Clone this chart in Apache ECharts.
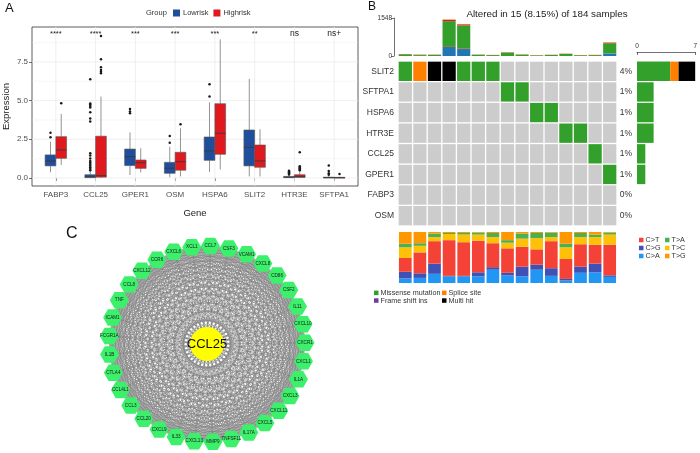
<!DOCTYPE html>
<html><head><meta charset="utf-8">
<script src="https://cdn.jsdelivr.net/npm/echarts@6/dist/echarts.min.js"></script>
<style>html,body{margin:0;padding:0;background:#fff}#c{width:700px;height:453px}</style>
</head><body><div id="c"></div>
<script>
// ---------- Panel A data ----------
const genes = ['FABP3','CCL25','GPER1','OSM','HSPA6','SLIT2','HTR3E','SFTPA1'];
const sigLabels = ['****','****','***','***','***','**','ns','ns+'];
const sigY = 9.3;
const yTicks = [0, 2.5, 5, 7.5];
const yMinor = [1.25, 3.75, 6.25, 8.75];
// [lower whisker, q1, median, q3, upper whisker]
const lowBox = [
  [0.37,0.78,1.10,1.49,2.35],
  [0.00,0.02,0.08,0.21,0.45],
  [0.19,0.80,1.38,1.87,2.95],
  [0.05,0.30,0.63,1.01,2.02],
  [0.38,1.14,1.75,2.65,4.89],
  [0.10,0.78,1.98,3.10,6.40],
  [0.00,0.02,0.05,0.10,0.17],
  [0.00,0.00,0.02,0.05,0.12]
];
const highBox = [
  [0.84,1.27,1.81,2.67,4.14],
  [0.00,0.05,0.15,2.70,5.26],
  [0.35,0.62,0.99,1.16,1.92],
  [0.10,0.50,1.05,1.66,3.21],
  [0.55,1.53,2.89,4.80,8.96],
  [0.10,0.69,1.10,2.13,3.15],
  [0.00,0.03,0.10,0.21,0.45],
  [0.00,0.00,0.02,0.04,0.08]
];
const lowOut = [
  [2.63,2.93],
  [0.5,0.6,0.7,0.8,0.9,1.0,1.1,1.25,1.45,1.6,3.65,3.85,4.25,4.55,4.65,4.75,4.82,6.38],
  [4.18,4.3,4.46],
  [2.28,2.72],
  [5.26,6.06],
  [],
  [0.22,0.27,0.32,0.37,0.42,0.47],
  [0.2,0.3,0.45,0.8]
];
const highOut = [
  [4.83],
  [6.77,6.87,6.98,7.15,7.67,9.18],
  [],
  [3.47],
  [],
  [],
  [0.5,0.55,0.62,0.68,0.75,1.66],
  [0.25]
];

// ---------- Panel B data ----------
const samples = ['S01','S02','S03','S04','S05','S06','S07','S08','S09','S10','S11','S12','S13','S14','S15'];
const oncoGenes = ['SLIT2','SFTPA1','HSPA6','HTR3E','CCL25','GPER1','FABP3','OSM'];
const oncoPct = ['4%','1%','1%','1%','1%','1%','0%','0%'];
// M = Missense mutation, S = Splice site, X = Multi hit, . = none
const oncoRows = [
  'MSXXMMM........',
  '.......MM......',
  '.........MM....',
  '...........MM..',
  '.............M.',
  '..............M',
  '...............',
  '...............'
];
const topFsDel   = [0,5,0,330,250,0,0,0,0,0,0,0,0,0,100];
const topFsIns   = [0,0,0,40,45,0,0,0,0,0,0,0,0,0,10];
const topMissense= [70,40,45,1050,950,50,35,140,55,25,40,85,30,35,410];
const topNonsense= [8,10,10,55,45,8,8,10,8,8,8,8,8,10,25];
const topSplice  = [3,3,3,15,15,3,3,3,3,3,3,3,3,3,15];
const rightMissense = [4,2,2,2,1,1,0,0];
const rightSplice   = [1,0,0,0,0,0,0,0];
const rightMulti    = [2,0,0,0,0,0,0,0];
const titvCA = [9,10,18,13,13,13,26,15,13,26,14,5,20,21,12];
const titvCG = [13,9,20,1,1,8,5,5,19,10,15,3,12,17,3];
const titvCT = [27,41,44,70,66,62,47,48,39,30,53,39,44,37,60];
const titvTC = [21,13,8,12,15,12,12,11,16,22,8,23,14,15,20];
const titvTA = [7,5,7,2,3,4,8,5,10,10,9,7,8,5,4];
const titvTG = [23,22,3,2,2,1,2,16,3,2,1,23,2,5,1];

// ---------- Panel C data ----------
const hubGene = 'CCL25';
const ringGenes = ['CCL7','CSF3','VCAM1','CXCL8','CD86','CSF2','IL11','CXCL10','CXCR1','CXCL1','IL1A','CXCL3','CXCL11','CXCL5','IL17A','TNFSF11','MMP9','CXCL13','IL33','CXCL9','CCL20','CCL3','CCL4L1','CTLA4','IL1B','FCGR1A','ICAM1','TNF','CCL8','CXCL12','CCR6','CXCL6','XCL1'];

// ---------- build ----------
const FONT = 'Liberation Sans, Arial, sans-serif';
const LOWC = '#1F4E9D', HIGHC = '#E0191E';
const mutColor = {M:'#33A02C', S:'#FF7F00', X:'#000000', '.':'#CCCCCC'};

function boxSeries(name, boxes, off, color){
  return {
    type:'custom', name, xAxisIndex:0, yAxisIndex:0, z:3,
    itemStyle:{color},
    data: boxes.map((b,i)=>[i+1].concat(b)),
    encode:{x:0, y:[1,2,3,4,5]},
    renderItem(p, api){
      const x = api.value(0) + off;
      const lo = api.coord([x, api.value(1)]), q1 = api.coord([x, api.value(2)]),
            md = api.coord([x, api.value(3)]), q3 = api.coord([x, api.value(4)]),
            hi = api.coord([x, api.value(5)]);
      const w = api.size([0.27, 0])[0];
      return {type:'group', children:[
        {type:'line', shape:{x1:lo[0],y1:lo[1],x2:lo[0],y2:q1[1]}, style:{stroke:'#666',lineWidth:0.7}},
        {type:'line', shape:{x1:hi[0],y1:q3[1],x2:hi[0],y2:hi[1]}, style:{stroke:'#666',lineWidth:0.7}},
        {type:'rect', shape:{x:q1[0]-w/2, y:q3[1], width:w, height:Math.max(q1[1]-q3[1],0.8)}, style:{fill:color, stroke:'#555', lineWidth:0.6}},
        {type:'line', shape:{x1:md[0]-w/2,y1:md[1],x2:md[0]+w/2,y2:md[1]}, style:{stroke:'#3a3a3a',lineWidth:0.9}}
      ]};
    }
  };
}
function outSeries(name, outs, off){
  const data = [];
  outs.forEach((arr,i)=>arr.forEach(v=>data.push([i+1, v])));
  return {
    type:'custom', name, xAxisIndex:0, yAxisIndex:0, z:4, data, encode:{x:0,y:1},
    renderItem(p, api){
      const c = api.coord([api.value(0)+off, api.value(1)]);
      return {type:'circle', shape:{cx:c[0], cy:c[1], r:1.25}, style:{fill:'#1a1a1a'}};
    }
  };
}
const gridSeries = {
  type:'custom', xAxisIndex:0, yAxisIndex:0, z:1, silent:true,
  data: yTicks.map(v=>[1, v, 1]).concat(yMinor.map(v=>[1, v, 0])).concat(genes.map((g,i)=>[i+1, 0, 2])),
  encode:{x:0, y:1},
  renderItem(p, api){
    const cs = p.coordSys;
    const kind = api.value(2);
    if (kind === 2){
      const x = api.coord([api.value(0), 0])[0];
      return {type:'line', shape:{x1:x,y1:cs.y,x2:x,y2:cs.y+cs.height}, style:{stroke:'#ebebeb', lineWidth:0.8}};
    }
    const y = api.coord([1, api.value(1)])[1];
    return {type:'line', shape:{x1:cs.x,y1:y,x2:cs.x+cs.width,y2:y}, style:{stroke:'#ebebeb', lineWidth: kind===1?0.8:0.4}};
  }
};
const sigSeries = {
  type:'custom', xAxisIndex:0, yAxisIndex:0, z:4, silent:true,
  data: sigLabels.map((s,i)=>[i+1, sigY]), encode:{x:0,y:1},
  renderItem(p, api){
    const c = api.coord([api.value(0), api.value(1)]);
    const t = sigLabels[p.dataIndex];
    const isNs = t.indexOf('ns') === 0;
    return {type:'text', x:c[0], y:c[1], style:{text:t, fontSize: isNs?8.5:7.5, fontFamily:FONT, fill:'#222', align:'center', verticalAlign:'middle'}};
  }
};

const cellData = [];
oncoRows.forEach((row, r)=>{ for (let c=0;c<samples.length;c++) cellData.push([c, r, row[c]]); });
const cellSeries = {
  type:'custom', xAxisIndex:2, yAxisIndex:2, silent:true, data:cellData, encode:{x:0,y:1},
  renderItem(p, api){
    const c = api.coord([api.value(0), api.value(1)]);
    const s = api.size([1,1]);
    const code = oncoRows[api.value(1)][api.value(0)];
    return {type:'rect', shape:{x:c[0]-s[0]/2+0.65, y:c[1]-s[1]/2+0.65, width:s[0]-1.3, height:s[1]-1.3}, style:{fill:mutColor[code]}};
  }
};

function topBar(name, data, color){
  return {type:'bar', name, xAxisIndex:1, yAxisIndex:1, stack:'top', data, itemStyle:{color}, barCategoryGap:'10%', silent:true};
}
function rightBar(name, data, color){
  return {type:'bar', name, xAxisIndex:3, yAxisIndex:3, stack:'right', data, itemStyle:{color}, barCategoryGap:'6%', silent:true};
}
function titvBar(name, data, color){
  return {type:'bar', name, xAxisIndex:4, yAxisIndex:4, stack:'titv', data, itemStyle:{color}, barCategoryGap:'13%', silent:true};
}

// network
const nodes = [{name:hubGene, value:[0,0], symbol:'circle', symbolSize:34, itemStyle:{color:'#FFFF00'}, label:{fontSize:13, color:'#111'}}]
  .concat(ringGenes.map((g,i)=>({name:g, value:[1, i]})));
const links = [];
ringGenes.forEach(g=>links.push({source:hubGene, target:g}));
for (let i=0;i<ringGenes.length;i++) for (let j=i+1;j<ringGenes.length;j++) links.push({source:ringGenes[i], target:ringGenes[j]});

const legendText = {fontSize:7.2, color:'#333', fontFamily:FONT, padding:[0,0,0,-3]};

const option = {
  animation:false,
  textStyle:{fontFamily:FONT},
  title:{text:'Altered in 15 (8.15%) of 184 samples', left:542, top:4, textAlign:'center',
    textStyle:{fontSize:9.8, fontWeight:'normal', color:'#222', fontFamily:FONT}},
  graphic:[
    {type:'text', left:5, top:2, style:{text:'A', fontSize:13, fill:'#111', fontFamily:FONT}},
    {type:'text', left:368, top:1, style:{text:'B', fontSize:12, fill:'#111', fontFamily:FONT}},
    {type:'text', left:66, top:226, style:{text:'C', fontSize:16, fill:'#111', fontFamily:FONT}},
    {type:'text', left:146, top:9, style:{text:'Group', fontSize:7.5, fill:'#333', fontFamily:FONT}}
  ],
  legend:[
    {data:['Lowrisk','Highrisk'], left:173, top:9, padding:0, icon:'rect', itemWidth:7, itemHeight:7, itemGap:5, textStyle:{fontSize:7.5, color:'#333', padding:[0,0,0,-2]}},
    {data:['C>T','C>G','C>A'], orient:'vertical', left:639, top:236, padding:0, icon:'rect', itemWidth:4.5, itemHeight:4.5, itemGap:0, textStyle:Object.assign({lineHeight:8},legendText)},
    {data:['T>A','T>C','T>G'], orient:'vertical', left:665, top:236, padding:0, icon:'rect', itemWidth:4.5, itemHeight:4.5, itemGap:0, textStyle:Object.assign({lineHeight:8},legendText)},
    {data:['Missense mutation','Frame shift ins'], orient:'vertical', left:374, top:289, padding:0, icon:'rect', itemWidth:4.5, itemHeight:4.5, itemGap:0, textStyle:Object.assign({lineHeight:7.7},legendText)},
    {data:['Splice site','Multi hit'], orient:'vertical', left:442, top:289, padding:0, icon:'rect', itemWidth:4.5, itemHeight:4.5, itemGap:0, textStyle:Object.assign({lineHeight:7.7},legendText)}
  ],
  grid:[
    {left:31, top:27, width:327, height:159, show:true, borderColor:'#333', borderWidth:0.8, backgroundColor:'#fff'},
    {left:398, top:18, width:219, height:38},
    {left:398, top:61, width:219, height:165},
    {left:637, top:61, width:60, height:165},
    {left:398, top:232, width:219, height:51}
  ],
  xAxis:[
    {type:'value', gridIndex:0, min:0.4, max:8.6, splitLine:{show:false}, axisLine:{show:false},
     axisTick:{show:true, customValues:genes.map((g,i)=>i+1), length:3, lineStyle:{color:'#333', width:0.7}},
     axisLabel:{customValues:genes.map((g,i)=>i+1), formatter:v=>genes[Math.round(v)-1], fontSize:8, color:'#4d4d4d', margin:5},
     name:'Gene', nameLocation:'middle', nameGap:22, nameTextStyle:{fontSize:9.5, color:'#222'}},
    {type:'category', gridIndex:1, data:samples, show:false},
    {type:'category', gridIndex:2, data:samples, show:false},
    {type:'value', gridIndex:3, min:0, max:7, interval:7, position:'top', offset:9,
     axisLine:{show:true, lineStyle:{color:'#333', width:0.7}}, axisTick:{show:true, inside:true, length:3, lineStyle:{color:'#333', width:0.7}},
     axisLabel:{fontSize:6.5, color:'#333', margin:2}, splitLine:{show:false}},
    {type:'category', gridIndex:4, data:samples, show:false}
  ],
  yAxis:[
    {type:'value', gridIndex:0, min:-0.52, max:9.76, splitLine:{show:false}, axisLine:{show:false},
     axisTick:{show:true, customValues:yTicks, length:3, lineStyle:{color:'#333', width:0.7}},
     axisLabel:{customValues:yTicks, formatter:v=>v.toFixed(1), fontSize:8, color:'#4d4d4d', margin:4},
     name:'Expression', nameLocation:'middle', nameGap:21, nameTextStyle:{fontSize:9.5, color:'#222'}},
    {type:'value', gridIndex:1, min:0, max:1548, interval:1548, offset:4, splitLine:{show:false},
     axisLine:{show:true, lineStyle:{color:'#333', width:0.7}}, axisTick:{show:true, length:3, lineStyle:{color:'#333', width:0.7}},
     axisLabel:{fontSize:6.5, color:'#333', margin:2, formatter:v=>String(v)}},
    {type:'category', gridIndex:2, data:oncoGenes, inverse:true, axisLine:{show:false}, axisTick:{show:false},
     axisLabel:{fontSize:8.5, color:'#333', margin:4}},
    {type:'category', gridIndex:3, data:oncoGenes, inverse:true, axisLine:{show:false}, axisTick:{show:false},
     axisLabel:{formatter:(v, i)=>oncoPct[i], fontSize:8.5, color:'#333', margin:5}},
    {type:'value', gridIndex:4, min:0, max:100, show:false}
  ],
  polar:{center:[207,344], radius:98},
  angleAxis:{type:'value', min:0, max:ringGenes.length, startAngle:88, clockwise:true, show:false},
  radiusAxis:{type:'value', min:0, max:1, show:false},
  series:[
    gridSeries,
    boxSeries('Lowrisk', lowBox, -0.135, LOWC),
    boxSeries('Highrisk', highBox, 0.135, HIGHC),
    outSeries('out-low', lowOut, -0.135),
    outSeries('out-high', highOut, 0.135),
    sigSeries,
    topBar('Frame shift del', topFsDel, '#1F78B4'),
    topBar('Frame shift ins', topFsIns, '#6A3D9A'),
    topBar('Missense mutation', topMissense, '#33A02C'),
    topBar('Nonsense mutation', topNonsense, '#E31A1C'),
    topBar('Splice site', topSplice, '#FF7F00'),
    cellSeries,
    rightBar('Missense mutation', rightMissense, '#33A02C'),
    rightBar('Splice site', rightSplice, '#FF7F00'),
    rightBar('Multi hit', rightMulti, '#000000'),
    titvBar('C>A', titvCA, '#2196F3'),
    titvBar('C>G', titvCG, '#3F51B5'),
    titvBar('C>T', titvCT, '#F44336'),
    titvBar('T>C', titvTC, '#FFC107'),
    titvBar('T>A', titvTA, '#4CAF50'),
    titvBar('T>G', titvTG, '#FF9800'),
    {
      type:'graph', coordinateSystem:'polar', polarIndex:0, silent:true,
      symbol:'path://M5,0L15,0L20,8.66L15,17.32L5,17.32L0,8.66Z', symbolSize:[19,16.5],
      itemStyle:{color:'#3CF06B'},
      label:{show:true, fontSize:4.6, color:'#1a1a1a', fontFamily:FONT},
      lineStyle:{color:'#7f7f7f', width:0.55, opacity:1, curveness:0},
      data:nodes, links
    }
  ]
};
const chart = echarts.init(document.getElementById('c'), null, {renderer:'canvas'});
chart.setOption(option);
</script></body></html>
